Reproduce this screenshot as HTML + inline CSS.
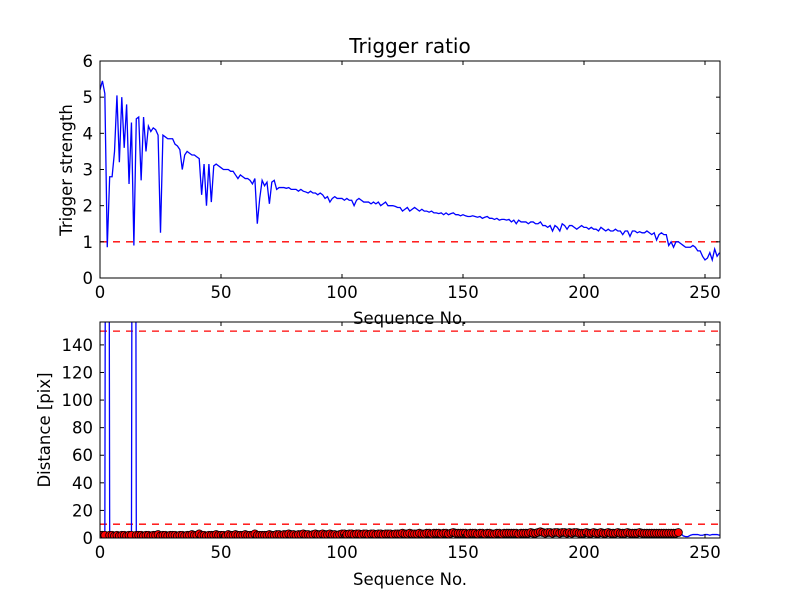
<!DOCTYPE html>
<html><head><meta charset="utf-8"><style>
body{margin:0;background:#fff}
svg text{font-family:"DejaVu Sans","Liberation Sans",sans-serif;fill:#000}
</style></head><body>
<svg id="chart" width="800" height="600" viewBox="0 0 800 600" xmlns="http://www.w3.org/2000/svg">
<rect width="800" height="600" fill="#fff"/>
</svg>
<script>
const ratioValues=[5.2,5.45,5.1,0.85,2.8,2.8,3.5,5.05,3.2,5.0,
3.6,4.8,2.6,4.3,0.9,4.4,4.45,2.7,4.45,3.5,
4.2,4.05,4.15,4.1,3.95,1.25,3.95,3.9,3.85,3.85,
3.85,3.7,3.65,3.55,3.0,3.4,3.5,3.45,3.4,3.4,
3.35,3.3,2.3,3.15,2.0,3.15,2.1,3.1,3.15,3.1,
3.05,3.0,3.0,3.0,2.95,2.95,2.85,2.75,2.85,2.8,
2.75,2.75,2.7,2.6,2.75,1.5,2.2,2.7,2.55,2.65,
2.05,2.65,2.7,2.45,2.5,2.5,2.5,2.48,2.5,2.45,
2.45,2.45,2.4,2.45,2.4,2.38,2.35,2.4,2.35,2.35,
2.3,2.35,2.3,2.2,2.25,2.1,2.2,2.25,2.2,2.2,
2.2,2.15,2.2,2.15,2.15,2.0,2.15,2.2,2.15,2.1,
2.1,2.1,2.05,2.1,2.05,2.1,2.0,2.05,2.1,2.0,
2.0,2.0,1.98,1.95,1.95,1.85,1.9,1.95,1.85,1.9,
1.95,1.9,1.85,1.9,1.85,1.85,1.82,1.85,1.8,1.8,
1.78,1.8,1.75,1.8,1.75,1.78,1.8,1.75,1.75,1.72,
1.75,1.72,1.7,1.7,1.72,1.7,1.68,1.7,1.65,1.68,
1.7,1.65,1.65,1.62,1.65,1.6,1.62,1.62,1.6,1.62,
1.55,1.6,1.5,1.6,1.55,1.55,1.55,1.5,1.55,1.55,
1.5,1.5,1.55,1.45,1.45,1.4,1.45,1.3,1.45,1.4,
1.3,1.5,1.45,1.35,1.45,1.45,1.4,1.35,1.4,1.45,
1.4,1.4,1.35,1.4,1.35,1.35,1.3,1.4,1.35,1.3,
1.35,1.3,1.3,1.35,1.3,1.3,1.2,1.3,1.3,1.15,
1.3,1.3,1.25,1.28,1.25,1.25,1.3,1.25,1.2,1.25,
1.05,1.2,1.25,1.2,1.2,0.9,1.0,0.85,1.0,1.0,
0.95,0.9,0.85,0.85,0.85,0.9,0.85,0.75,0.75,0.6,
0.5,0.55,0.7,0.5,0.8,0.6,0.7];
const distanceValues=[2,2,2,1000,2,2,1.5,2,1.5,2,
2,1.5,2,2,1000,2,2,2,1.5,2,
2,1.5,2,2,2.5,1.5,2,2,1.5,2,
2,2,1.5,2,2,1.5,2,2,2.5,2,
2,3,2,2,1.5,2,2,2,2.5,2,
2,2,1.5,2.5,2,2,2.5,2,2,2,
2.5,2,2,2,3,2,2,2,2,2,
2.5,2,2,2.5,2.5,2,2.5,2.5,3,2.5,
2.5,2,2.5,2.5,3,2.5,2.5,2,2.5,3,
2.5,2.5,3,2.5,2.5,3,2.5,2.5,2,2.5,
3,3,2.5,3,3,2.5,3,3,2.5,3,
3,2.5,3,3,2.5,3,3,2.5,3,3,
3,2.5,3,3,3,3.5,3,3,3.5,3,
3,3,3.5,3,3,3.5,3.5,3,3.5,3.5,
3.5,3,3.5,3.5,3,3.5,4,3.5,3.5,3.5,
3.5,3.5,3,3.5,3.5,3.5,3,3.5,3.5,3,
3.5,3.5,3,3,3.5,3.5,3,3.5,3.5,3.5,
3.5,3.5,3.5,3,3.5,3.5,3.5,3.5,4,3.5,
3.5,4,4.5,4,3.5,4,4,3.5,4,4,
3.5,4,4,3.5,4,3.5,4,4,3.5,3.5,
3.5,4,3.5,3.5,4,3.5,3.5,4,3.5,3.5,
4,3.5,3.5,3.5,4,3.5,3.5,3.5,4,3.5,
3.5,3.5,3.5,4,3.5,3.5,3.5,3.5,3.5,3.5,
3.5,3.5,3.5,3.5,3.5,3.5,3.5,3.5,3.5,4,
3.5,1.5,1,1,2,2.5,2.5,2.5,2,2,
2.5,2.5,2,2.5,2.5,2.5,2];
const markerCount=240;
const topYTicks=[0,1,2,3,4,5,6];
const botYTicks=[0,20,40,60,80,100,120,140];
const xTicks=[0,50,100,150,200,250];
const ratioThreshold=1, distLow=10, distHigh=150;

const NS="http://www.w3.org/2000/svg";
const svg=document.getElementById('chart');
function mk(tag,attrs,parent){const e=document.createElementNS(NS,tag);for(const k in attrs)e.setAttribute(k,attrs[k]);(parent||svg).appendChild(e);return e;}
const X0=100,X1=720,XMAX=256.2;
const xs=v=>X0+v/XMAX*(X1-X0);
const T={top:61,bot:278,max:6};
const B={top:322,bot:538,max:156.6};
const ty=v=>T.bot-v/T.max*(T.bot-T.top);
const by=v=>B.bot-v/B.max*(B.bot-B.top);

function axes(P,yf,yt,name){
  const g=mk('g',{});
  
  
  xTicks.forEach(t=>{const x=xs(t);
    mk('line',{x1:x,x2:x,y1:P.bot,y2:P.bot-4,stroke:'#000'},g);
    mk('line',{x1:x,x2:x,y1:P.top,y2:P.top+4,stroke:'#000'},g);
    const tx=mk('text',{x:x,y:P.bot+20,'font-size':16.5,'text-anchor':'middle'},g);tx.textContent=t;
    
    
  });
  yt.forEach(t=>{const y=yf(t);
    mk('line',{x1:X0,x2:X0+4,y1:y,y2:y,stroke:'#000'},g);
    mk('line',{x1:X1,x2:X1-4,y1:y,y2:y,stroke:'#000'},g);
    const tx=mk('text',{x:X0-7,y:y+6,'font-size':16.5,'text-anchor':'end'},g);tx.textContent=t;
    
    
  });
  return g;
}
function clip(id,P){const c=mk('clipPath',{id:id});mk('rect',{x:X0,y:P.top,width:X1-X0,height:P.bot-P.top},c);}
clip('ct',T);clip('cb',B);

const gt=mk('g',{'clip-path':'url(#ct)'});


const th=mk('line',{x1:X0,x2:X1,y1:ty(ratioThreshold),y2:ty(ratioThreshold),stroke:'#f00','stroke-width':1.3,'stroke-dasharray':'7,6'},gt);


const rl=mk('polyline',{points:ratioValues.map((v,i)=>xs(i)+','+ty(v)).join(' '),fill:'none',stroke:'#00f','stroke-width':1.3},gt);


axes(T,ty,topYTicks,'top-axes');
mk('rect',{x:X0,y:T.top,width:X1-X0,height:T.bot-T.top,fill:'none',stroke:'#000','stroke-width':1});

const gb=mk('g',{'clip-path':'url(#cb)'});


[distLow,distHigh].forEach(v=>{const l=mk('line',{x1:X0,x2:X1,y1:by(v),y2:by(v),stroke:'#f00','stroke-width':1.3,'stroke-dasharray':'7,6'},gb);
  
  });
const dl=mk('polyline',{points:distanceValues.map((v,i)=>xs(i)+','+by(v)).join(' '),fill:'none',stroke:'#00f','stroke-width':1.3},gb);


distanceValues.forEach((v,i)=>{if(i<markerCount&&v<distLow){
  const c=mk('circle',{cx:xs(i),cy:by(v),r:4,fill:'#f00',stroke:'#000','stroke-width':0.8},gb);
  
  }});
axes(B,by,botYTicks,'bottom-axes');
mk('rect',{x:X0,y:B.top,width:X1-X0,height:B.bot-B.top,fill:'none',stroke:'#000','stroke-width':1});

function label(txt,attrs,name){const t=mk('text',attrs);t.textContent=txt;
  
  }
label('Trigger ratio',{x:410,y:53,'font-size':20,'text-anchor':'middle'},'chart-title');
label('Sequence No.',{x:410,y:324,'font-size':16.5,'text-anchor':'middle'},'top-x-axis-title');
label('Sequence No.',{x:410,y:585,'font-size':16.5,'text-anchor':'middle'},'bottom-x-axis-title');
label('Trigger strength',{x:72,y:170,'font-size':16.5,'text-anchor':'middle',transform:'rotate(-90 72 170)'},'top-y-axis-title');
label('Distance [pix]',{x:50,y:430,'font-size':16.5,'text-anchor':'middle',transform:'rotate(-90 50 430)'},'bottom-y-axis-title');
</script>
</body></html>
